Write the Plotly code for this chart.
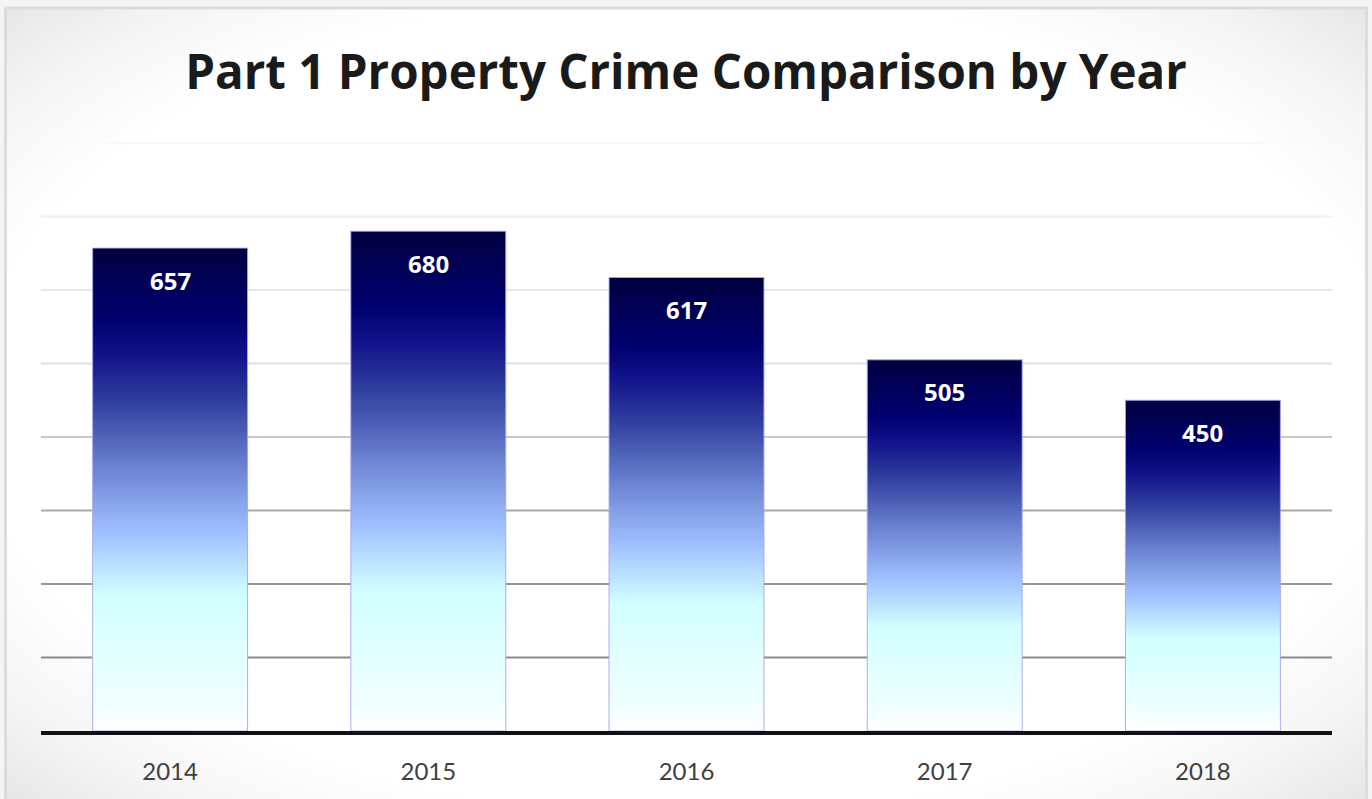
import plotly.graph_objects as go

# ---- data ----
years = ["2014", "2015", "2016", "2017", "2018"]
crimes = [657, 680, 617, 505, 450]
grid_values = [100, 200, 300, 400, 500, 600, 700, 800]
grid_colors = ["#8a8a8a", "#969696", "#a8a8a8", "#c8c8c8", "#e0e0e0", "#e8e8e8", "#f0f0f0", "#f8f8f8"]

bar_scale = [
    [0.0, "#ffffff"], [0.06, "#f0ffff"], [0.28, "#d2ffff"], [0.41, "#a0c0ff"],
    [0.55, "#6a80d0"], [0.68, "#3040a0"], [0.78, "#12128a"], [0.85, "#000070"],
    [1.0, "#000040"],
]

fig = go.Figure()

# background panel with soft corner vignette (panel-sized subplot x/y)
fig.add_trace(go.Scatter(
    x=[-0.22, 1.22, 1.22, -0.22, -0.22], y=[-0.22, -0.22, 1.22, 1.22, -0.22],
    mode="none", fill="toself",
    fillgradient=dict(type="radial", colorscale=[[0, "#ffffff"], [0.72, "#ffffff"], [0.86, "#f5f5f5"], [1, "#e4e4e4"]]),
    hoverinfo="skip", showlegend=False, xaxis="x", yaxis="y",
))

# gridlines
for gv, gc in zip(grid_values, grid_colors):
    fig.add_trace(go.Scatter(
        x=[-0.5, 4.5], y=[gv, gv], mode="lines", line=dict(color=gc, width=2),
        hoverinfo="skip", showlegend=False, xaxis="x2", yaxis="y2",
    ))

half = 0.3
for i, (yr, v) in enumerate(zip(years, crimes)):
    fig.add_trace(go.Scatter(
        x=[i - half, i + half, i + half, i - half, i - half],
        y=[0, 0, v, v, 0],
        mode="lines", fill="toself",
        line=dict(color="rgba(165,165,235,0.9)", width=1),
        fillgradient=dict(type="vertical", start=0, stop=v, colorscale=bar_scale),
        name=yr, showlegend=False, hoverinfo="skip",
        xaxis="x2", yaxis="y2",
    ))
    fig.add_annotation(
        x=i, y=v, xref="x2", yref="y2", text=f"<b>{v}</b>", showarrow=False,
        yanchor="middle", yshift=-32,
        font=dict(family="Open Sans", size=24, color="white"),
    )

# panel frame
fig.add_shape(type="rect", xref="paper", yref="paper", x0=0.004, x1=0.996, y0=-0.01, y1=0.99,
              line=dict(color="#dcdcdc", width=3), fillcolor="rgba(0,0,0,0)", layer="above")

fig.update_layout(
    width=1372, height=799,
    margin=dict(l=0, r=0, t=0, b=0),
    paper_bgcolor="#f4f4f4", plot_bgcolor="rgba(0,0,0,0)",
    title=dict(text="<b>Part 1 Property Crime Comparison by Year</b>", x=0.5, xanchor="center",
               y=1 - 72 / 799, yanchor="middle", font=dict(family="Open Sans", size=47.5, color="#1a1a1a")),
    xaxis=dict(domain=[0.004, 0.996], range=[0, 1], visible=False, fixedrange=True),
    yaxis=dict(domain=[0, 0.99], range=[0, 1], visible=False, fixedrange=True),
    xaxis2=dict(domain=[41 / 1372, 1332 / 1372], range=[-0.5, 4.5], anchor="y2",
                tickmode="array", tickvals=list(range(len(years))), ticktext=years,
                showgrid=False, zeroline=False, showline=True, linecolor="#111111", linewidth=4,
                ticks="outside", ticklen=16, tickcolor="rgba(0,0,0,0)",
                tickfont=dict(family="Lato", size=24, color="#404040"), fixedrange=True),
    yaxis2=dict(domain=[68 / 799, 656 / 799], range=[0, 800], anchor="x2", fixedrange=True,
                showgrid=False, zeroline=False, showticklabels=False, showline=False),
)

fig.write_html("out.html", post_script="document.body.style.margin='0';",
               config={"displayModeBar": False})
